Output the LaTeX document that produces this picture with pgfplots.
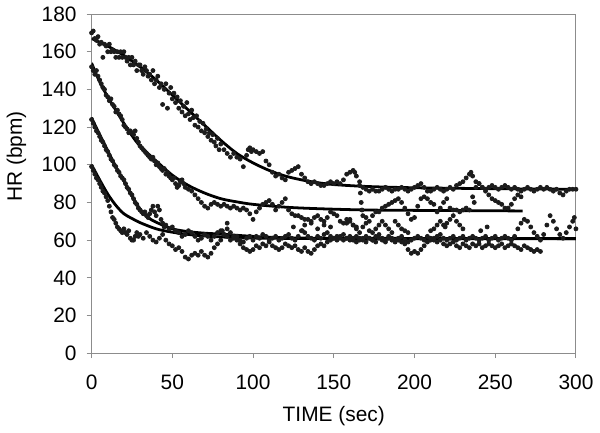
\documentclass[border=0pt]{standalone}
\usepackage{pgfplots}
\pgfplotsset{compat=1.18}
\usepackage{fontspec}
\setmainfont{Liberation Sans}
\definecolor{dotc}{HTML}{1C1C1C}
\definecolor{framec}{HTML}{8C8C8C}
\begin{document}
\begin{tikzpicture}
\begin{axis}[
  scale only axis, width=243.5pt, height=170.5pt,
  xmin=0, xmax=300, ymin=0, ymax=180,
  xtick={0,50,...,300}, ytick={0,20,...,180},
  tick align=outside, tick pos=left,
  axis line style={framec, line width=0.5pt},
  major tick style={framec, line width=0.5pt},
  major tick length=2.5pt,
  /pgf/number format/assume math mode=true,
  ticklabel style={font=\fontsize{10.5}{12}\selectfont, text=black},
  yticklabel style={xshift=-1.5pt},
  xticklabel style={yshift=-5pt},
  xlabel={TIME (sec)}, ylabel={HR (bpm)},
  label style={font=\fontsize{10.5}{12}\selectfont},
  xlabel style={yshift=-1.5pt},
  ylabel style={at={(ticklabel cs:0.58)}, yshift=1pt},
  clip=true,
  every axis plot post/.append style={mark options={draw=none, fill=dotc}},
]
% ---------- scattered measurements ----------
\addplot[only marks, mark=*, mark size=1pt, dotc] coordinates {
(0,170)(1,171)(2,167)(3,166)(4,168)(5,164)(6,165)(7,157)(8,164)(9,163)(10,160)(11,164)(12,160)(13,161)(14,160)(15,157)(16,160)(17,157)(18,160)(19,157)(20,160)(21,157)(22,155)(23,157)(24,153)(25,157)(26,153)(27,155)(28,150)(29,153)(30,153)(31,150)(32,148)(33,152)(34,150)(35,147)(36,148)(37,145)(38,150)(39,143)(40,145)(41,147)(42,141)(43,143)(44,132)(45,140)(46,143)(47,130)(48,138)(49,141)(50,135)(51,138)(52,133)(53,136)(54,130)(55,134)(56,128)(57,131)(58,126)(59,133)(60,127)(61,124)(62,129)(63,125)(64,121)(65,126)(66,120)(67,123)(68,118)(69,122)(70,117)(71,119)(72,115)(73,117)(74,113)(75,116)(76,112)(77,110)(78,114)(79,108)(80,111)(82,108)(84,106)(86,104)(88,106)(90,104)(92,103)(94,99)(96,105)(97,108)(98,109)(99,107)(100,108)(102,107)(104,106)(106,107)(108,102)(110,100)(112,96)(114,94)(116,95)(118,93)(120,92)(122,96)(124,97)(126,98)(128,99)(130,95)(132,93)(134,91)(136,90)(138,91)(140,90)(142,89)(144,89)(146,90)(148,91)(150,90)(152,91)(154,90)(156,92)(158,95)(160,96)(162,97)(163,96)(164,94)(166,91)(168,88)(170,87)(172,86)(174,87)(176,86)(178,86)(180,87)(182,88)(184,87)(186,86)(188,87)(190,87)(192,88)(194,87)(196,86)(198,87)(200,88)(202,89)(204,90)(206,88)(208,86)(210,86)(212,87)(214,88)(216,87)(218,86)(220,87)(222,88)(224,87)(226,89)(228,90)(230,91)(232,93)(234,95)(235,96)(236,94)(238,91)(240,90)(242,88)(244,87)(246,88)(248,89)(250,88)(252,87)(254,88)(256,89)(258,88)(260,87)(262,88)(264,87)(266,86)(268,87)(270,88)(272,87)(274,86)(276,87)(278,88)(280,87)(282,88)(284,87)(286,86)(288,87)(290,85)(292,84)(294,86)(296,87)(298,87)(300,87)
};
\addplot[only marks, mark=*, mark size=1pt, dotc] coordinates {
(0,152)(1,150)(2,148)(3,150)(4,147)(5,145)(6,143)(7,141)(8,140)(9,137)(10,136)(11,134)(12,135)(13,132)(14,131)(15,128)(16,129)(17,127)(18,126)(19,124)(20,121)(21,120)(22,119)(23,117)(24,118)(25,117)(26,116)(27,118)(28,114)(29,112)(30,110)(31,109)(32,108)(33,107)(34,106)(35,105)(36,104)(37,103)(38,104)(39,102)(40,100)(41,101)(42,99)(43,98)(44,97)(45,98)(46,95)(47,96)(48,94)(49,93)(50,92)(51,93)(52,90)(53,88)(54,89)(55,91)(56,92)(57,90)(58,88)(60,87)(62,86)(64,84)(66,82)(68,80)(70,78)(72,77)(74,79)(76,80)(78,79)(80,78)(82,79)(84,78)(86,77)(88,78)(90,77)(92,76)(94,77)(96,76)(98,74)(100,71)(102,75)(104,77)(106,79)(108,80)(110,81)(112,79)(114,76)(116,78)(118,80)(120,82)(122,76)(124,74)(126,73)(128,73)(130,72)(132,71)(134,71)(136,70)(138,72)(140,73)(142,71)(144,70)(146,72)(148,75)(150,74)(152,73)(154,70)(156,69)(158,71)(160,70)(162,68)(164,67)(166,89)(166.5,85)(167,80)(167.5,76)(168,73)(170,72)(172,70)(174,73)(176,75)(178,75)(180,77)(182,78)(184,79)(186,80)(188,81)(190,82)(192,80)(194,77)(196,74)(198,71)(200,72)(202,78)(204,82)(206,83)(208,82)(210,80)(212,79)(214,75)(216,77)(218,80)(220,82)(222,77)(224,76)(226,76)(228,75)(230,76)(232,77)(234,76)(236,83)(237,80)(238,88)(240,90)(242,88)(244,86)(246,84)(248,82)(250,81)(252,80)(254,79)(256,77)(258,77)(260,79)(262,82)(264,84)(266,83)
};
\addplot[only marks, mark=*, mark size=1pt, dotc] coordinates {
(0,124)(1,122)(2,120)(3,118)(4,117)(5,115)(6,113)(7,112)(8,110)(9,108)(10,107)(11,105)(12,103)(13,102)(14,100)(15,99)(16,97)(17,96)(18,94)(19,93)(20,92)(21,90)(22,88)(23,87)(24,85)(25,84)(26,82)(27,80)(28,79)(29,77)(30,76)(31,75)(32,74)(33,75)(34,73)(35,72)(36,74)(37,76)(38,78)(39,75)(40,73)(41,78)(42,76)(43,71)(44,69)(45,67)(46,68)(48,66)(50,67)(52,65)(54,64)(56,62)(58,63)(60,65)(62,64)(64,62)(66,60)(68,61)(70,63)(72,62)(74,60)(76,62)(78,64)(80,65)(82,63)(84,62)(86,60)(88,61)(90,62)(92,60)(94,59)(96,61)(98,62)
(100,60)(102,62)(104,61)(106,63)(108,62)(110,60)(112,61)(114,62)(116,60)(118,61)(120,62)(122,63)(124,61)(126,60)(128,62)(130,65)(132,64)(134,62)(136,61)(138,60)(140,62)(142,61)(144,63)(146,64)(148,62)(150,61)(152,60)(154,62)(156,63)(158,61)(160,60)(162,61)(164,62)(166,60)(168,61)(170,62)(172,61)(174,60)(176,62)(178,63)(180,61)(182,60)(184,62)(186,61)(188,60)(190,61)(192,62)(194,60)(196,59)(198,60)(200,61)(202,62)(204,61)(206,60)(208,62)(210,61)(212,60)(214,62)(216,63)(218,61)(220,60)(222,61)(224,62)(226,60)(228,61)(230,62)(232,60)(234,61)(236,62)(238,61)(240,60)(242,61)(244,62)(246,60)(248,61)(250,62)(252,60)(254,61)(256,62)(258,61)(260,60)(262,62)(264,66)(266,69)(268,71)(270,70)(272,67)(274,64)(276,62)(278,60)(280,63)(282,68)(284,73)(286,70)(288,66)(290,63)(292,61)(294,64)(296,67)(298,70)(299,72)(300,66)
};
\addplot[only marks, mark=*, mark size=1pt, dotc] coordinates {
(0,99)(1,97)(2,95)(3,93)(4,92)(5,90)(6,88)(7,86)(8,85)(9,83)(10,81)(11,78)(12,75)(13,72)(14,71)(15,69)(16,67)(17,66)(18,65)(19,64)(20,66)(21,64)(22,63)(23,65)(24,61)(25,60)(26,60)(27,62)(28,64)(29,62)(30,63)(32,61)(34,64)(36,62)(38,60)(40,59)(42,61)(44,63)(46,60)(48,58)(50,57)(52,55)(54,56)(56,54)(58,51)(60,50)(62,52)(64,53)(66,52)(68,54)(70,52)(72,51)(74,53)(76,56)(78,58)(80,60)(82,63)(84,66)(86,64)(88,62)(90,60)(92,58)(94,56)(96,55)(98,54)(100,55)(102,57)(104,56)(106,58)(108,57)(110,59)(112,57)(114,56)(116,55)(118,56)(120,58)(122,57)(124,56)(126,57)(128,55)(130,54)(132,56)(134,54)(136,53)(138,55)(140,57)(142,58)(144,57)(146,59)(148,60)(150,61)(152,62)(154,61)(156,60)(158,61)(160,62)(162,60)(164,59)(166,61)(168,60)(170,59)(172,61)(174,60)(176,59)(178,61)(180,60)(182,59)(184,61)(186,60)(188,59)(190,60)(192,59)(194,58)(196,55)(198,53)(200,54)(202,53)(204,55)(206,57)(208,59)(210,60)(212,61)(214,59)(216,60)(218,58)(220,57)(222,58)(224,59)(226,57)(228,56)(230,58)(232,57)(234,56)(236,58)(238,57)(240,58)(242,56)(244,57)(246,58)(248,57)(250,56)(252,57)(254,58)(256,56)(258,57)(260,58)(262,57)(264,56)(266,55)(268,57)(270,56)(272,55)(274,54)(276,55)(278,54)
};
\addplot[only marks, mark=*, mark size=1pt, dotc] coordinates {
(81,65)(84,69)(125,67)(130.5,65)(132,68)(136,69)(140,66)(144,68)(148,67)(158,69)(160,71)(162,68)(164,66)(166,64)(168,67)(170,69)(172,65)(174,64)(176,66)(178,68)(180,70)(182,68)(184,66)(186,64)(188,70)(190,68)(192,66)(194,65)(196,64)(210,65)(212,66)(214,68)(216,70)(218,68)(219,67)(220,69)(222,71)(224,73)(226,70)(228,68)(230,66)(241,65)(245,67)
};
% ---------- fitted curves ----------
\addplot[black, line width=1.4pt, smooth] coordinates {
(0,167)(10,163)(20,158)(30,152)(40,145)(50,137)(60,129)(70,121)(80,113)(90,106)(100,101)(110,97)(120,94)(130,92)(140,90.5)(150,89.5)(170,88.5)(200,87.8)(250,87.3)(300,87)
};
\addplot[black, line width=1.4pt, smooth] coordinates {
(0,154)(5,144)(10,136)(15,129)(20,122)(25,115.5)(30,110)(40,102)(50,94.5)(60,89)(70,85)(80,82)(90,80.3)(100,79)(120,77.5)(140,76.7)(170,76)(200,75.8)(267,75.5)
};
\addplot[black, line width=1.4pt, smooth] coordinates {
(0,125)(5,116)(10,107.5)(15,99)(20,91.5)(25,83.5)(30,76.5)(35,72)(40,69.5)(50,66)(60,64.5)(70,63.7)(80,63.2)(100,62)(120,61.3)(150,61)(300,60.8)
};
\addplot[black, line width=1.4pt, smooth] coordinates {
(0,100)(5,92)(10,84.5)(15,78.5)(20,74)(25,71.5)(30,69.3)(40,66)(50,64.2)(60,63)(70,62.2)(80,61.7)(100,61.1)(150,60.8)(300,60.7)
};
\end{axis}
\end{tikzpicture}
\end{document}
